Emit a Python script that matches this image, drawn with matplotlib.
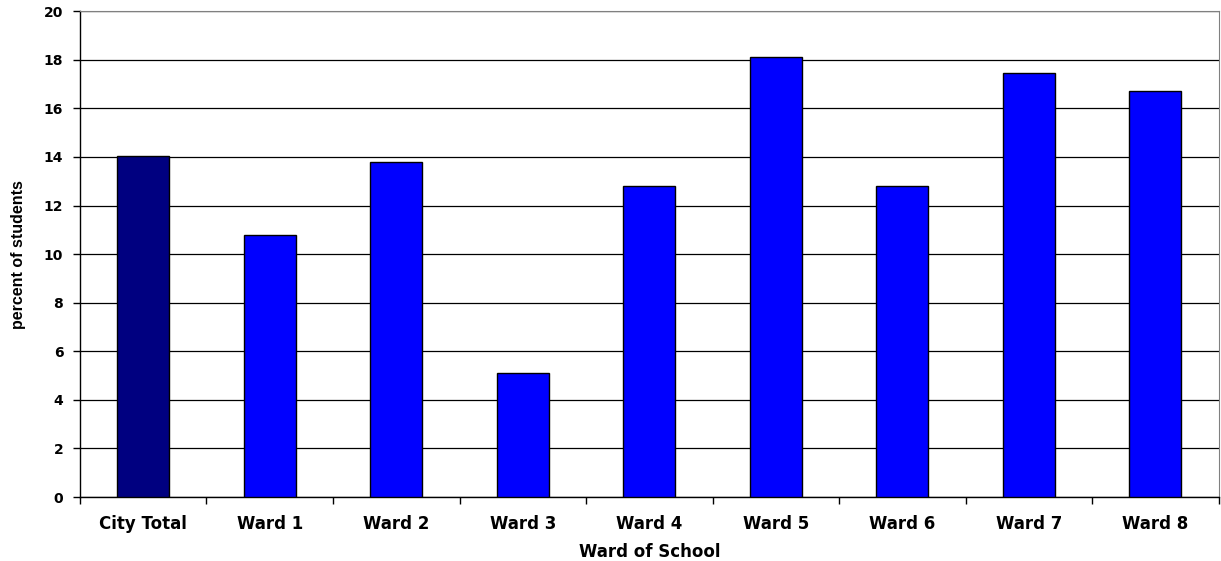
import matplotlib
matplotlib.use("Agg")
import matplotlib.pyplot as plt
import numpy as np

categories = ["City Total", "Ward 1", "Ward 2", "Ward 3", "Ward 4",
              "Ward 5", "Ward 6", "Ward 7", "Ward 8"]
percent_students = [14.05, 10.8, 13.8, 5.1, 12.8, 18.1, 12.8, 17.45, 16.7]
bar_colors = ["#000080"] + ["#0000FF"] * 8

plt.rcParams["font.family"] = ["DejaVu Sans"]

fig = plt.figure(figsize=(12.21, 5.61), dpi=100)
ax = fig.add_axes([0.0655, 0.114, 0.9325, 0.866])

x = np.arange(len(categories))
ax.bar(x, percent_students, width=0.41, color=bar_colors,
       edgecolor="black", linewidth=1.0, zorder=3)

ax.set_xlim(-0.5, len(categories) - 0.5)
ax.set_ylim(0, 20)
ax.set_yticks(np.arange(0, 21, 2))
ax.yaxis.grid(True, color="black", linewidth=0.9, zorder=0)
ax.set_axisbelow(True)

# category labels centred, tick marks on the boundaries
ax.set_xticks(x)
ax.set_xticklabels(categories, fontsize=12, fontweight="bold")
ax.tick_params(axis="x", which="major", length=0, pad=13)
ax.set_xticks(np.arange(-0.5, len(categories)), minor=True)
ax.tick_params(axis="x", which="minor", length=5, width=1, direction="out")
ax.tick_params(axis="y", length=5, width=1, direction="out", labelsize=10, pad=7)
for lbl in ax.get_yticklabels():
    lbl.set_fontweight("bold")

ax.set_xlabel("Ward of School", fontsize=12, fontweight="bold", labelpad=7)
ax.set_ylabel("percent of students", fontsize=11.5, fontweight="bold",
              family="Liberation Sans", labelpad=13)

for side in ["top", "right"]:
    ax.spines[side].set_color("#808080")
for side in ["left", "bottom"]:
    ax.spines[side].set_color("black")
    ax.spines[side].set_linewidth(1.0)

fig.savefig("out.png", dpi=100)
